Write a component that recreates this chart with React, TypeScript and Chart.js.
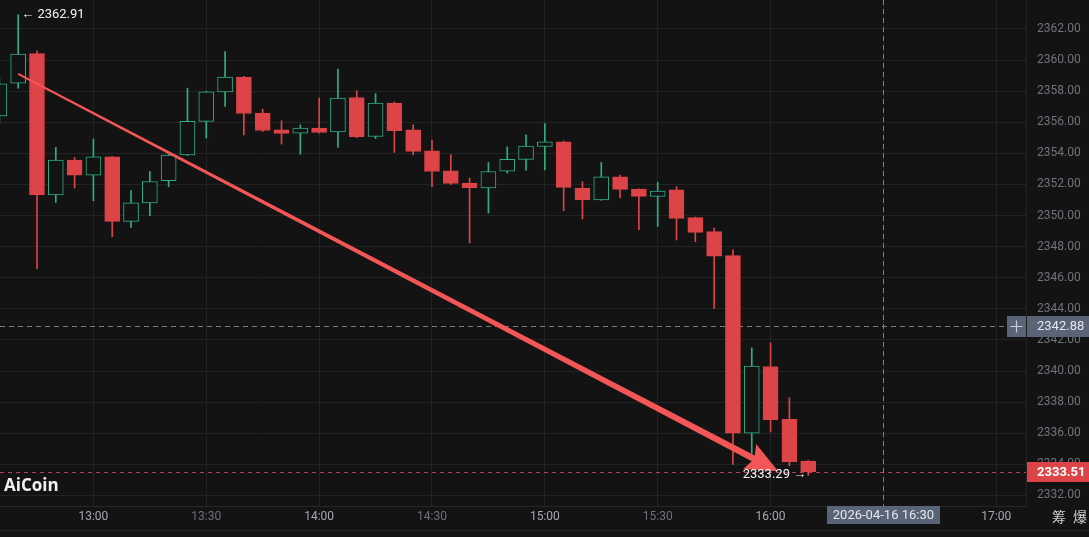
import React, { useEffect, useRef } from 'react';
import { Chart, registerables } from 'chart.js';

Chart.register(...registerables);

// ---------- data ----------
const times = [
  '12:35', '12:40', '12:45', '12:50', '12:55', '13:00', '13:05', '13:10', '13:15', '13:20',
  '13:25', '13:30', '13:35', '13:40', '13:45', '13:50', '13:55', '14:00', '14:05', '14:10',
  '14:15', '14:20', '14:25', '14:30', '14:35', '14:40', '14:45', '14:50', '14:55', '15:00',
  '15:05', '15:10', '15:15', '15:20', '15:25', '15:30', '15:35', '15:40', '15:45', '15:50',
  '15:55', '16:00', '16:05', '16:10',
];
const opens = [
  2356.41, 2358.51, 2360.41, 2351.32, 2353.57, 2352.60, 2353.78, 2349.62, 2350.81, 2352.24,
  2353.89, 2356.05, 2357.95, 2358.90, 2356.59, 2355.51, 2355.30, 2355.62, 2355.38, 2357.59,
  2355.08, 2357.23, 2355.51, 2354.16, 2352.88, 2352.09, 2351.77, 2352.86, 2353.61, 2354.44,
  2354.74, 2351.77, 2351.00, 2352.49, 2351.70, 2351.23, 2351.66, 2349.86, 2348.96, 2347.42,
  2336.01, 2340.29, 2336.89, 2334.21,
];
const highs = [
  2358.80, 2362.91, 2360.59, 2354.38, 2353.73, 2354.92, 2353.80, 2351.60, 2352.82, 2354.10,
  2358.19, 2358.00, 2360.54, 2358.95, 2356.84, 2356.09, 2355.83, 2357.55, 2359.41, 2358.02,
  2357.84, 2357.30, 2355.83, 2354.85, 2353.91, 2352.41, 2353.41, 2354.42, 2355.19, 2355.92,
  2354.80, 2352.17, 2353.41, 2352.60, 2351.72, 2352.13, 2351.85, 2349.90, 2349.20, 2347.79,
  2341.49, 2341.81, 2338.28, 2334.25,
];
const lows = [
  2355.90, 2358.19, 2346.59, 2350.84, 2351.77, 2350.95, 2348.64, 2349.24, 2349.99, 2351.85,
  2353.85, 2354.98, 2357.01, 2355.19, 2355.40, 2354.59, 2353.95, 2355.30, 2354.38, 2355.00,
  2354.95, 2354.06, 2353.91, 2351.85, 2352.00, 2348.24, 2350.16, 2352.73, 2352.92, 2352.94,
  2350.31, 2349.78, 2350.98, 2351.13, 2349.09, 2349.30, 2348.43, 2348.32, 2344.02, 2334.00,
  2334.70, 2336.07, 2333.90, 2333.29,
];
const closes = [
  2358.47, 2360.38, 2351.32, 2353.57, 2352.60, 2353.78, 2349.62, 2350.81, 2352.19, 2353.89,
  2356.05, 2357.95, 2358.90, 2356.56, 2355.47, 2355.28, 2355.62, 2355.34, 2357.55, 2355.06,
  2357.23, 2355.45, 2354.12, 2352.83, 2352.06, 2351.77, 2352.83, 2353.61, 2354.47, 2354.74,
  2351.81, 2351.00, 2352.49, 2351.68, 2351.23, 2351.58, 2349.82, 2348.92, 2347.38, 2336.01,
  2340.31, 2336.87, 2334.15, 2333.51,
];
const timeTicks = ['13:00', '13:30', '14:00', '14:30', '15:00', '15:30', '16:00', '16:30', '17:00'];
const priceTicks = [
  2332, 2334, 2336, 2338, 2340, 2342, 2344, 2346, 2348, 2350, 2352, 2354, 2356, 2358, 2360, 2362,
];
const lastPrice = 2333.51;
const crossPrice = 2342.88;
const crossTime = '16:30';
const crossDateLabel = '2026-04-16 16:30';
const highMark = { time: '12:40', price: 2362.91 };
const lowMark = { time: '16:10', price: 2333.29 };
const arrowFrom = { time: '12:40', price: 2359.11 };
const arrowTo = { time: '16:02', price: 2333.55 };
const watermark = 'AiCoin';
const cornerChars = ['筹', '爆'];

// view window (minutes after 12:00, price)
const X_MIN = 35.17;
const X_MAX = 307.9;
const Y_MIN = 2331.32;
const Y_MAX = 2363.86;

// ---------- styles ----------
const BG = '#131313';
const GRID = '#232323';
const RED = '#dc4448';
const GREEN = '#2fae85';
const ARROW = '#f25656';
const FONT = "Roboto, 'Noto Sans', sans-serif";
const BOX = '#5a6477';

const toMin = (t: string) => {
  const [h, m] = t.split(':').map(Number);
  return (h - 12) * 60 + m;
};
const fmtMin = (v: number) => {
  const total = 12 * 60 + v;
  const h = Math.floor(total / 60);
  const m = Math.round(total % 60);
  return `${h}:${m < 10 ? '0' + m : m}`;
};

const overlay = {
  id: 'overlay',
  beforeDraw(chart: any) {
    const { ctx, width, height } = chart;
    ctx.save();
    ctx.fillStyle = BG;
    ctx.fillRect(0, 0, width, height);
    ctx.restore();
  },
  beforeDatasetsDraw(chart: any) {
    const { ctx, chartArea, scales } = chart;
    const xs = scales.x;
    const ys = scales.y;
    ctx.save();
    ctx.lineWidth = 1;
    // last price line
    const yl = Math.round(ys.getPixelForValue(lastPrice)) + 0.5;
    ctx.strokeStyle = 'rgba(214,70,92,0.85)';
    ctx.setLineDash([4, 4]);
    ctx.beginPath();
    ctx.moveTo(chartArea.left, yl);
    ctx.lineTo(chartArea.right, yl);
    ctx.stroke();
    // crosshair
    ctx.strokeStyle = 'rgba(150,150,150,0.8)';
    ctx.setLineDash([5, 4]);
    const yc = Math.round(ys.getPixelForValue(crossPrice)) + 0.5;
    ctx.beginPath();
    ctx.moveTo(chartArea.left, yc);
    ctx.lineTo(chartArea.right - 19, yc);
    ctx.stroke();
    const xc = Math.round(xs.getPixelForValue(toMin(crossTime))) + 0.5;
    ctx.beginPath();
    ctx.moveTo(xc, chartArea.top);
    ctx.lineTo(xc, chartArea.bottom);
    ctx.stroke();
    ctx.restore();
  },
  afterDatasetsDraw(chart: any) {
    const { ctx, scales } = chart;
    const xs = scales.x;
    const ys = scales.y;
    ctx.save();
    // arrow
    const x1 = xs.getPixelForValue(toMin(arrowFrom.time));
    const y1 = ys.getPixelForValue(arrowFrom.price);
    const x2 = xs.getPixelForValue(toMin(arrowTo.time));
    const y2 = ys.getPixelForValue(arrowTo.price);
    const dx = x2 - x1;
    const dy = y2 - y1;
    const len = Math.hypot(dx, dy);
    const ux = dx / len;
    const uy = dy / len;
    const nx = -uy;
    const ny = ux;
    const headLen = 32;
    const headW = 14;
    const w0 = 0.9;
    const w1 = 3.2;
    const bx = x2 - ux * headLen;
    const by = y2 - uy * headLen;
    const cx = x2 - ux * (headLen - 4);
    const cy = y2 - uy * (headLen - 4);
    ctx.fillStyle = ARROW;
    ctx.beginPath();
    ctx.moveTo(x1 + nx * w0, y1 + ny * w0);
    ctx.lineTo(cx + nx * w1, cy + ny * w1);
    ctx.lineTo(bx + nx * headW, by + ny * headW);
    ctx.lineTo(x2, y2);
    ctx.lineTo(bx - nx * headW, by - ny * headW);
    ctx.lineTo(cx - nx * w1, cy - ny * w1);
    ctx.lineTo(x1 - nx * w0, y1 - ny * w0);
    ctx.closePath();
    ctx.fill();

    // high / low labels
    ctx.fillStyle = '#f2f2f2';
    ctx.font = `13px ${FONT}`;
    ctx.textBaseline = 'middle';
    const hx = xs.getPixelForValue(toMin(highMark.time));
    const hy = ys.getPixelForValue(highMark.price);
    ctx.textAlign = 'left';
    ctx.fillText(`← ${highMark.price.toFixed(2)}`, hx + 3, hy);
    const lx = xs.getPixelForValue(toMin(lowMark.time));
    const ly = ys.getPixelForValue(lowMark.price);
    ctx.textAlign = 'right';
    ctx.fillText(`${lowMark.price.toFixed(2)} →`, lx - 2, ly - 1);

    // watermark
    ctx.textAlign = 'left';
    ctx.fillStyle = '#f0f0f0';
    ctx.font = `700 17px 'Open Sans', ${FONT}`;
    ctx.fillText(watermark, 4, 486);
    ctx.restore();
  },
  afterDraw(chart: any) {
    const { ctx, chartArea, scales, width } = chart;
    const xs = scales.x;
    const ys = scales.y;
    ctx.save();
    // bottom strip line
    ctx.strokeStyle = '#262626';
    ctx.lineWidth = 1;
    ctx.beginPath();
    ctx.moveTo(0, 530.5);
    ctx.lineTo(width, 530.5);
    ctx.stroke();

    ctx.textBaseline = 'middle';
    ctx.textAlign = 'left';
    // last price box
    const yl = ys.getPixelForValue(lastPrice);
    ctx.fillStyle = RED;
    ctx.fillRect(chartArea.right + 1, Math.round(yl) - 10, width - chartArea.right - 1, 20);
    ctx.fillStyle = '#ffffff';
    ctx.font = `700 13px ${FONT}`;
    ctx.fillText(lastPrice.toFixed(2), chartArea.right + 11, yl + 0.5);

    // crosshair price box
    const yc = ys.getPixelForValue(crossPrice);
    const top = Math.round(yc) - 10;
    ctx.fillStyle = BOX;
    ctx.fillRect(chartArea.right - 19, top, 19, 21);
    ctx.fillRect(chartArea.right + 1, top, width - chartArea.right - 1, 21);
    ctx.strokeStyle = '#c9ced8';
    ctx.lineWidth = 1.2;
    const pcx = chartArea.right - 9.5;
    const pcy = top + 10.5;
    ctx.beginPath();
    ctx.moveTo(pcx - 6, pcy);
    ctx.lineTo(pcx + 6, pcy);
    ctx.moveTo(pcx, pcy - 6);
    ctx.lineTo(pcx, pcy + 6);
    ctx.stroke();
    ctx.fillStyle = '#e4e7ec';
    ctx.font = `13px ${FONT}`;
    ctx.fillText(crossPrice.toFixed(2), chartArea.right + 11, yc + 1);

    // crosshair time box
    const xc = xs.getPixelForValue(toMin(crossTime));
    ctx.font = `13px ${FONT}`;
    const tw = ctx.measureText(crossDateLabel).width + 12;
    ctx.fillStyle = BOX;
    ctx.fillRect(Math.round(xc - tw / 2), chartArea.bottom, Math.round(tw), 18);
    ctx.fillStyle = '#e4e7ec';
    ctx.textAlign = 'center';
    ctx.fillText(crossDateLabel, xc, chartArea.bottom + 9.5);

    // corner characters
    ctx.fillStyle = '#cfcfcf';
    ctx.font = `14px 'Noto Sans CJK SC', sans-serif`;
    ctx.fillText(cornerChars[0], 1059, 517);
    ctx.fillText(cornerChars[1], 1080, 517);
    ctx.restore();
  },
};

export default function App() {
  const ref = useRef<HTMLCanvasElement>(null);
  useEffect(() => {
    const canvas = ref.current;
    if (!canvas) return;
    const isUp = times.map((_, i) => closes[i] >= opens[i]);
    const bodies = times.map((t, i) => ({ x: toMin(t), y: [opens[i], closes[i]] }));
    const wicks = times.map((t, i) => ({ x: toMin(t), y: [lows[i], highs[i]] }));
    const chart = new Chart(canvas, {
      type: 'bar',
      data: {
        datasets: [
          {
            label: 'wick',
            data: wicks as any,
            backgroundColor: isUp.map((u) => (u ? GREEN : RED)),
            borderWidth: 0,
            barThickness: 1,
            grouped: false,
            order: 2,
          } as any,
          {
            label: 'body',
            data: bodies as any,
            backgroundColor: isUp.map((u) => (u ? BG : RED)),
            borderColor: isUp.map((u) => (u ? GREEN : RED)),
            borderWidth: 1,
            borderSkipped: false,
            barThickness: 15,
            grouped: false,
            order: 1,
          } as any,
        ],
      },
      options: {
        responsive: false,
        maintainAspectRatio: false,
        animation: false,
        events: [],
        layout: { padding: 0 },
        plugins: { legend: { display: false }, tooltip: { enabled: false } },
        scales: {
          x: {
            type: 'linear',
            position: 'bottom',
            min: X_MIN,
            max: X_MAX,
            offset: false,
            grid: { color: GRID, offset: false, drawTicks: false },
            border: { color: '#272727' },
            ticks: {
              padding: 4,
              autoSkip: false,
              maxRotation: 0,
              font: { family: FONT, size: 12 },
              color: (ctx: any) => {
                const v = ctx.tick ? ctx.tick.value : 0;
                return v % 60 === 0 ? '#a4a8b0' : '#6d717a';
              },
              callback: (v: any) => {
                const s = fmtMin(Number(v));
                return s === crossTime ? '' : s;
              },
            },
            afterBuildTicks: (s: any) => {
              s.ticks = timeTicks.map((t) => ({ value: toMin(t) }));
            },
            afterFit: (s: any) => {
              s.height = 31;
              s.paddingLeft = 0;
              s.paddingRight = 0;
            },
          },
          y: {
            type: 'linear',
            position: 'right',
            min: Y_MIN,
            max: Y_MAX,
            beginAtZero: false,
            grid: { color: GRID, drawTicks: false },
            border: { color: '#222222' },
            ticks: {
              padding: 11,
              autoSkip: false,
              font: { family: FONT, size: 12 },
              color: '#6f737b',
              callback: (v: any) => Number(v).toFixed(2),
            },
            afterBuildTicks: (s: any) => {
              s.ticks = priceTicks.map((v) => ({ value: v }));
            },
            afterFit: (s: any) => {
              s.width = 63;
              s.paddingTop = 0;
              s.paddingBottom = 0;
            },
          },
        },
      } as any,
      plugins: [overlay as any],
    });
    return () => chart.destroy();
  }, []);
  return (
    <div style={{ position: 'absolute', left: 0, top: 0, width: 1089, height: 537, background: BG }}>
      <canvas ref={ref} width={1089} height={537} style={{ display: 'block', width: 1089, height: 537 }} />
    </div>
  );
}
